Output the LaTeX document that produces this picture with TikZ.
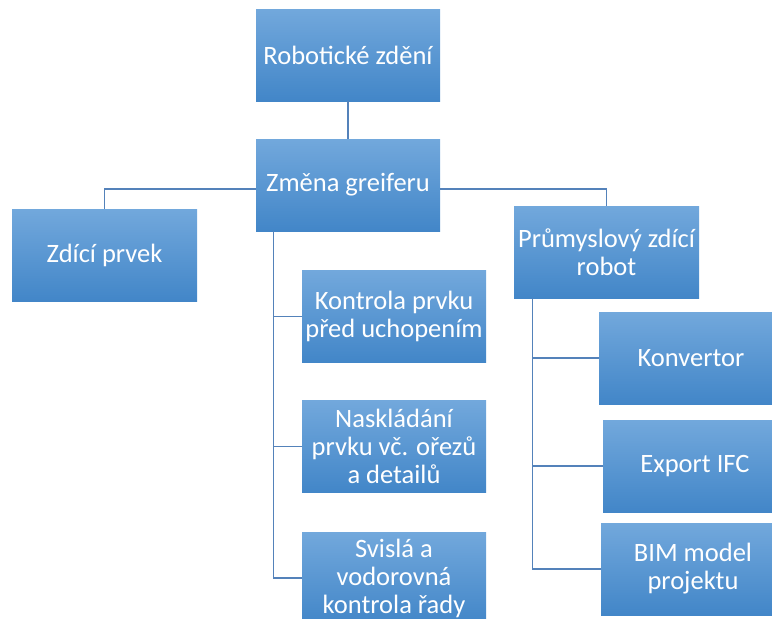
\documentclass[tikz,border=0pt]{standalone}
\usepackage{fontspec}
\setmainfont{Carlito}
\usepackage{tikz}
\usetikzlibrary{positioning, calc}
\definecolor{boxtop}{RGB}{114,168,220}
\definecolor{boxmid}{RGB}{88,154,216}
\definecolor{boxbot}{RGB}{66,134,200}
\definecolor{linkblue}{RGB}{84,130,186}
\tikzset{
  box/.style={rectangle, top color=boxtop, middle color=boxmid, bottom color=boxbot,
    minimum width=184pt, minimum height=92pt, inner sep=0pt, align=center,
    text=white, font=\fontsize{26.5}{28}\selectfont},
  link/.style={line width=1.2pt, color=linkblue}
}
\begin{document}
\begin{tikzpicture}[x=1pt, y=-1pt]
  \useasboundingbox (0,0) rectangle (772,619);

  % Top of the tree
  \node[box] (robot) at (348,55) {Robotické zdění};
  \node[box] (zmena) at (348,185) {Změna greiferu};

  % Second level
  \node[box, minimum width=185pt] (zdici) at (104.5,255) {Zdící prvek};
  \node[box, minimum width=185pt] (prumysl) at (606.5,252) {Průmyslový zdící\\robot};

  % Steps under the gripper change
  \node[box] (kontrola) at (394,316.5) {Kontrola prvku\\před uchopením};
  \node[box] (naskladani) at (394,446.5) {Naskládání\\prvku vč. ořezů\\a detailů};
  \node[box] (svisla) at (394,578) {Svislá a\\vodorovná\\kontrola řady};

  % Parts under the robot
  \node[box] (konvertor) at (691,358) {Konvertor};
  \node[box] (export) at (695,466) {Export IFC};
  \node[box] (bim) at (693,569) {BIM model\\projektu};

  % Connectors
  \draw[link] (robot) -- (zmena);
  \draw[link] ([yshift=-4pt]zmena.west) -| (zdici.north);
  \draw[link] ([yshift=-4pt]zmena.east) -| (prumysl.north);
  \draw[link] ([xshift=18pt]zmena.south west) |- (kontrola.west);
  \draw[link] ([xshift=18pt]zmena.south west) |- (naskladani.west);
  \draw[link] ([xshift=18pt]zmena.south west) |- (svisla.west);
  \draw[link] ([xshift=19pt]prumysl.south west) |- (konvertor.west);
  \draw[link] ([xshift=19pt]prumysl.south west) |- (export.west);
  \draw[link] ([xshift=19pt]prumysl.south west) |- (bim.west);
\end{tikzpicture}
\end{document}
